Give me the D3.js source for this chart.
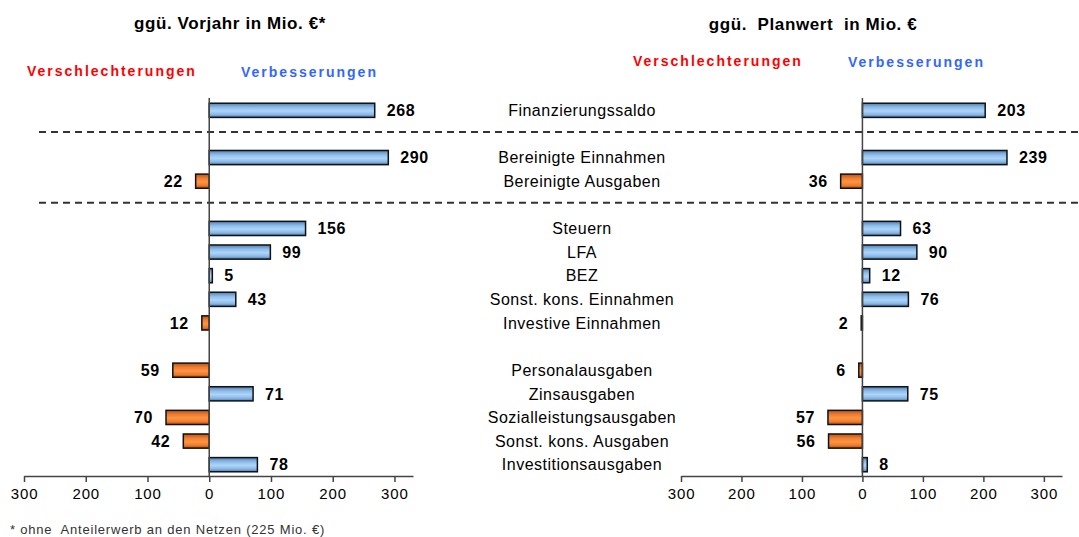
<!DOCTYPE html>
<html>
<head>
<meta charset="utf-8">
<script src="https://cdn.jsdelivr.net/npm/d3@7"></script>
<style>
  body { margin: 0; background: #fff; }
  svg { font-family: "Liberation Sans", Arial, sans-serif; }
</style>
</head>
<body>
<div id="chart"></div>
<script>
// rows, "" = empty spacer row
const categories = ["Finanzierungssaldo", "", "Bereinigte Einnahmen", "Bereinigte Ausgaben", "",
  "Steuern", "LFA", "BEZ", "Sonst. kons. Einnahmen", "Investive Einnahmen", "",
  "Personalausgaben", "Zinsausgaben", "Sozialleistungsausgaben", "Sonst. kons. Ausgaben", "Investitionsausgaben"]

// negative = Verschlechterung, positive = Verbesserung
const vorjahr = [268, null, 290, -22, null, 156, 99, 5, 43, -12, null, -59, 71, -70, -42, 78]
const planwert = [203, null, 239, -36, null, 63, 90, 12, 76, -2, null, -6, 75, -57, -56, 8]

const tickValues = [-300, -200, -100, 0, 100, 200, 300]
const separators = [1, 4]

const W = 1079, H = 537
const svg = d3.select("#chart").append("svg")
  .attr("width", W).attr("height", H)

const defs = svg.append("defs")
function grad(id, stops) {
  const g = defs.append("linearGradient").attr("id", id)
    .attr("x1", 0).attr("y1", 0).attr("x2", 0).attr("y2", 1)
  stops.forEach(s => g.append("stop").attr("offset", s[0]).attr("stop-color", s[1]))
}
grad("gBlue", [[0, "#4f7fb5"], [0.3, "#8fbde9"], [0.55, "#aed4f8"], [0.8, "#8ab8e6"], [1, "#4a78ad"]])
grad("gOrange", [[0, "#b8541a"], [0.3, "#f07f30"], [0.55, "#ff9445"], [0.8, "#ee7c2c"], [1, "#a94b14"]])

const y = d3.scaleBand()
  .domain(d3.range(categories.length))
  .range([98.5, 476.5])
  .paddingInner(0.4).paddingOuter(0.2)

const rowY = i => y(i) + y.bandwidth() / 2

const panels = [
  { data: vorjahr, x: d3.scaleLinear().domain([-300, 330]).range([24, 413]),
    title: "ggü. Vorjahr in Mio. €*", titleX: 230, titleY: 29,
    legY: 76, legBad: 27, legGood: 241 },
  { data: planwert, x: d3.scaleLinear().domain([-300, 330]).range([681, 1062]),
    title: "ggü.  Planwert  in Mio. €", titleX: 813, titleY: 30,
    legY: 66, legBad: 633, legGood: 848 }
]

// dashed separators across the whole width
separators.forEach(i => {
  svg.append("line")
    .attr("x1", 39).attr("x2", W)
    .attr("y1", rowY(i) - 2).attr("y2", rowY(i) - 2)
    .attr("stroke", "#333").attr("stroke-width", 2)
    .attr("stroke-dasharray", "7,5")
})

panels.forEach(p => {
  const g = svg.append("g")

  g.append("text")
    .attr("x", p.titleX).attr("y", p.titleY)
    .attr("text-anchor", "middle")
    .style("font-size", "17px").style("font-weight", "bold")
    .style("letter-spacing", "0.6px")
    .style("white-space", "pre")
    .text(p.title)

  g.append("text")
    .attr("x", p.legBad).attr("y", p.legY)
    .attr("fill", "#ff0000")
    .style("font-size", "14px").style("font-weight", "bold")
    .style("letter-spacing", "2px")
    .text("Verschlechterungen")

  g.append("text")
    .attr("x", p.legGood).attr("y", p.legY + 1)
    .attr("fill", "#3366ff")
    .style("font-size", "14px").style("font-weight", "bold")
    .style("letter-spacing", "2px")
    .text("Verbesserungen")

  const rows = p.data.map((v, i) => ({ v, i })).filter(d => d.v !== null)

  g.selectAll("rect.bar")
    .data(rows)
    .enter().append("rect")
    .attr("class", "bar")
    .attr("x", d => p.x(Math.min(0, d.v)))
    .attr("y", d => y(d.i))
    .attr("width", d => Math.abs(p.x(d.v) - p.x(0)))
    .attr("height", y.bandwidth())
    .attr("fill", d => d.v < 0 ? "url(#gOrange)" : "url(#gBlue)")
    .attr("stroke", "#111")
    .attr("stroke-width", 1.5)

  g.selectAll("text.val")
    .data(rows)
    .enter().append("text")
    .attr("class", "val")
    .attr("x", d => d.v < 0 ? p.x(d.v) - 13 : p.x(d.v) + 12)
    .attr("y", d => rowY(d.i))
    .attr("dy", "0.36em")
    .attr("text-anchor", d => d.v < 0 ? "end" : "start")
    .style("font-size", "16px").style("font-weight", "bold")
    .style("letter-spacing", "0.6px")
    .text(d => Math.abs(d.v))

  // zero line
  g.append("line")
    .attr("x1", p.x(0)).attr("x2", p.x(0))
    .attr("y1", 98).attr("y2", 476)
    .attr("stroke", "#444").attr("stroke-width", 1.5)

  const axis = d3.axisBottom(p.x)
    .tickValues(tickValues)
    .tickFormat(d => Math.abs(d))
    .tickSizeInner(6).tickSizeOuter(0)
    .tickPadding(6)

  const ax = g.append("g")
    .attr("transform", "translate(0,476)")
    .call(axis)
  ax.select(".domain").attr("stroke", "#444").attr("stroke-width", 1.5)
  ax.selectAll(".tick line").attr("stroke", "#444").attr("stroke-width", 1.5)
  ax.selectAll(".tick text")
    .attr("fill", "#000")
    .style("font-size", "15px")
    .style("letter-spacing", "0.9px")
    .style("font-family", "'Liberation Sans', Arial, sans-serif")
})

// category labels in the middle
svg.selectAll("text.cat")
  .data(categories.map((c, i) => ({ c, i })).filter(d => d.c !== ""))
  .enter().append("text")
  .attr("class", "cat")
  .attr("x", 582)
  .attr("y", d => rowY(d.i))
  .attr("dy", "0.36em")
  .attr("text-anchor", "middle")
  .style("font-size", "16px")
  .style("letter-spacing", "0.5px")
  .text(d => d.c)

svg.append("text")
  .attr("x", 10).attr("y", 534)
  .attr("fill", "#333")
  .style("font-size", "13px")
  .style("letter-spacing", "0.8px")
  .style("white-space", "pre")
  .text("* ohne  Anteilerwerb an den Netzen (225 Mio. €)")
</script>
</body>
</html>
